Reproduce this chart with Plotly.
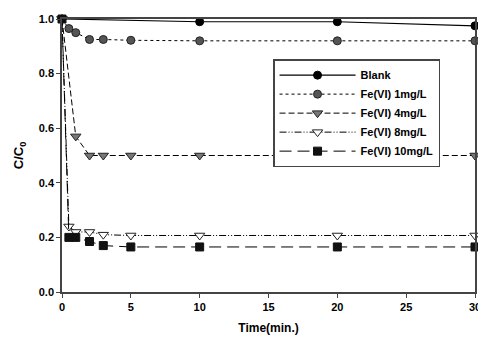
import plotly.graph_objects as go

time_blank = [0, 10, 20, 30]
blank = [1.0, 0.99, 0.99, 0.975]

time_fe1 = [0, 0.5, 1, 2, 3, 5, 10, 20, 30]
fe1 = [1.0, 0.965, 0.95, 0.925, 0.925, 0.922, 0.92, 0.92, 0.92]

time_fe4 = [0, 1, 2, 3, 5, 10, 20, 30]
fe4 = [1.0, 0.57, 0.50, 0.50, 0.50, 0.50, 0.50, 0.50]

time_fe8 = [0, 0.5, 1, 2, 3, 5, 10, 20, 30]
fe8 = [1.0, 0.24, 0.22, 0.22, 0.21, 0.207, 0.207, 0.207, 0.207]

time_fe10 = [0, 0.5, 1, 2, 3, 5, 10, 20, 30]
fe10 = [1.0, 0.20, 0.20, 0.185, 0.17, 0.165, 0.165, 0.165, 0.165]

x_ticks = [0, 5, 10, 15, 20, 25, 30]
y_ticks = [0.0, 0.2, 0.4, 0.6, 0.8, 1.0]

series = [
    ("Blank", time_blank, blank, dict(color="black", width=1.2, dash="solid"),
     dict(symbol="circle", size=8, color="black", line=dict(color="black", width=1))),
    ("Fe(VI) 1mg/L", time_fe1, fe1, dict(color="black", width=1, dash="dot"),
     dict(symbol="circle", size=8, color="#555555", line=dict(color="#222222", width=1))),
    ("Fe(VI) 4mg/L", time_fe4, fe4, dict(color="black", width=1, dash="6px,3px"),
     dict(symbol="triangle-down", size=9, color="#777777", line=dict(color="#222222", width=1))),
    ("Fe(VI) 8mg/L", time_fe8, fe8, dict(color="black", width=1, dash="7px,2px,1px,2px,1px,2px"),
     dict(symbol="triangle-down", size=9, color="white", line=dict(color="#222222", width=1))),
    ("Fe(VI) 10mg/L", time_fe10, fe10, dict(color="black", width=1, dash="12px,6px"),
     dict(symbol="square", size=8, color="#111111", line=dict(color="#111111", width=1))),
]

fig = go.Figure()
for name, x, y, line, marker in series:
    fig.add_trace(go.Scatter(x=x, y=y, name=name, mode="lines+markers",
                             line=line, marker=marker, cliponaxis=False))

font_family = "Liberation Sans, Arial, sans-serif"
fig.update_layout(
    width=478, height=333,
    margin=dict(l=54, r=5, t=6, b=49),
    plot_bgcolor="white", paper_bgcolor="white",
    font=dict(family=font_family, size=11, color="black"),
    showlegend=True,
    legend=dict(x=0.511, y=0.853, xanchor="left", yanchor="top",
                bordercolor="#444444", borderwidth=1.5, bgcolor="white",
                font=dict(family=font_family, size=11, color="black", weight="bold"),
                itemwidth=76, tracegroupgap=0),
    xaxis=dict(range=[0, 30], tickvals=x_ticks, ticktext=[str(v) for v in x_ticks],
               showgrid=False, zeroline=False, showline=True, linecolor="#444444",
               linewidth=1.5, mirror=True, ticks="outside", ticklen=4, tickcolor="#444444",
               tickfont=dict(size=11, weight="bold"),
               title=dict(text="Time(min.)", font=dict(size=12, weight="bold"), standoff=12)),
    yaxis=dict(range=[0, 1.0], tickvals=y_ticks, ticktext=[f"{v:.1f}" for v in y_ticks],
               showgrid=False, zeroline=False, showline=True, linecolor="#444444",
               linewidth=1.5, mirror=True, ticks="outside", ticklen=4, tickcolor="#444444",
               tickfont=dict(size=11, weight="bold"),
               title=dict(text="C/C<sub>0</sub>", font=dict(size=13, weight="bold"), standoff=12)),
)

fig.write_html("out.html")
